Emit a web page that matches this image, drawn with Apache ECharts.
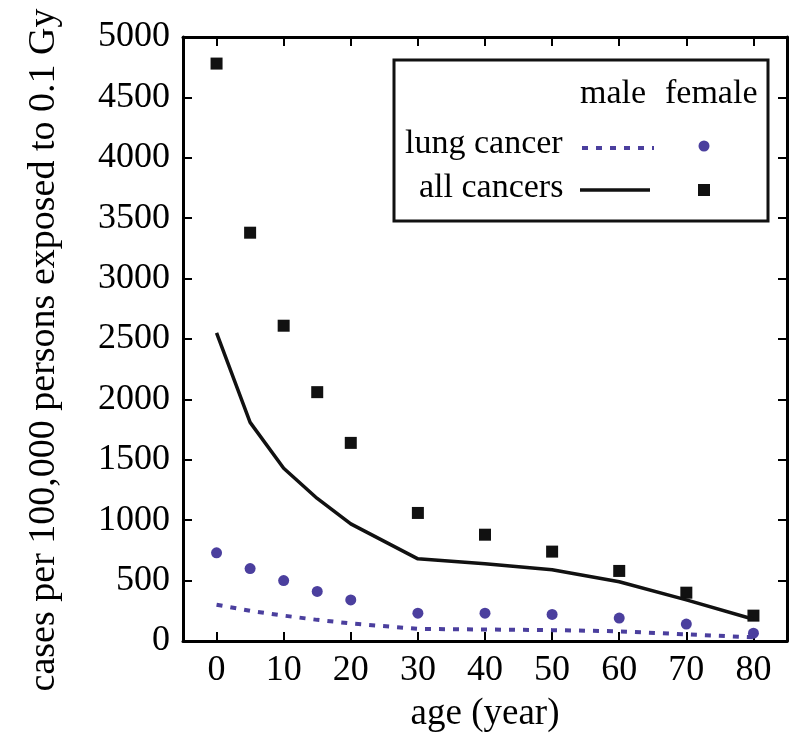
<!DOCTYPE html>
<html>
<head>
<meta charset="utf-8">
<script src="https://cdn.jsdelivr.net/npm/echarts@6/dist/echarts.min.js"></script>
<style>
  html, body { margin: 0; padding: 0; background: #fff; }
  #chart { width: 790px; height: 734px; }
</style>
</head>
<body>
<div id="chart"></div>
<script>
  // ages where the values were read
  var ages = [0, 5, 10, 15, 20, 30, 40, 50, 60, 70, 80];
  var xTicks = [0, 10, 20, 30, 40, 50, 60, 70, 80];

  var maleLung = [300, 250, 210, 175, 145, 100, 95, 90, 80, 55, 30];
  var femaleLung = [730, 600, 500, 410, 340, 230, 230, 220, 190, 140, 65];
  var maleAll = [2550, 1810, 1430, 1180, 970, 680, 640, 590, 490, 340, 180];
  var femaleAll = [4780, 3380, 2610, 2060, 1640, 1060, 880, 740, 580, 400, 210];

  var purple = '#4b3f9e';
  var serif = 'Liberation Serif';

  function pairs(vals) {
    return ages.map(function (a, i) { return [a, vals[i]]; });
  }

  // legend captions drawn as titles so they take the same serif font as the axes
  function caption(text, left, top) {
    return {
      text: text, left: left, top: top, padding: 0,
      textStyle: { fontFamily: serif, fontSize: 34, fontWeight: 'normal', color: '#000' }
    };
  }

  var chart = echarts.init(document.getElementById('chart'));

  var frameLine = { show: true, onZero: false, lineStyle: { color: '#000', width: 3 } };
  var tickIn = { show: true, inside: true, length: 9, lineStyle: { color: '#000', width: 2 } };

  var option = {
    animation: false,
    backgroundColor: '#fff',
    textStyle: { fontFamily: serif },
    title: [
      caption('male', 580, 77),
      caption('female', 665, 77),
      caption('lung cancer', 405, 127),
      caption('all cancers', 419, 171)
    ],
    grid: { left: 183, right: 3, top: 37, bottom: 93, outerBoundsMode: 'none' },
    xAxis: [
      {
        type: 'value', min: -5, max: 85,
        name: 'age (year)', nameLocation: 'middle', nameGap: 55,
        nameTextStyle: { fontFamily: serif, fontSize: 37, color: '#000' },
        axisLine: frameLine,
        axisTick: Object.assign({ customValues: xTicks }, tickIn),
        axisLabel: { customValues: xTicks, fontFamily: serif, fontSize: 36, color: '#000', margin: 12 },
        splitLine: { show: false }
      },
      {
        type: 'value', min: -5, max: 85, position: 'top',
        axisLine: frameLine,
        axisTick: Object.assign({ customValues: xTicks }, tickIn),
        axisLabel: { show: false },
        splitLine: { show: false }
      }
    ],
    yAxis: [
      {
        type: 'value', min: 0, max: 5000, interval: 500,
        name: 'cases per 100,000 persons exposed to 0.1 Gy',
        nameLocation: 'middle', nameGap: 120,
        nameTextStyle: { fontFamily: serif, fontSize: 38, color: '#000', padding: [0, 22, 0, 0] },
        axisLine: frameLine,
        axisTick: tickIn,
        axisLabel: {
          fontFamily: serif, fontSize: 36, color: '#000', margin: 13,
          formatter: function (v) { return String(v); }
        },
        splitLine: { show: false }
      },
      {
        type: 'value', min: 0, max: 5000, interval: 500, position: 'right',
        axisLine: frameLine,
        axisTick: tickIn,
        axisLabel: { show: false },
        splitLine: { show: false }
      }
    ],
    series: [
      {
        name: 'lung cancer male', type: 'line', data: pairs(maleLung),
        showSymbol: false,
        lineStyle: { color: purple, width: 4, type: [6, 8] }
      },
      {
        name: 'all cancers male', type: 'line', data: pairs(maleAll),
        showSymbol: false,
        lineStyle: { color: '#111', width: 3.5 }
      },
      {
        name: 'lung cancer female', type: 'scatter', data: pairs(femaleLung),
        symbol: 'circle', symbolSize: 11,
        itemStyle: { color: purple, opacity: 1 }
      },
      {
        name: 'all cancers female', type: 'scatter', data: pairs(femaleAll),
        symbol: 'rect', symbolSize: 12,
        itemStyle: { color: '#111', opacity: 1 }
      }
    ],
    graphic: [
      { type: 'rect', shape: { x: 394, y: 60, width: 374, height: 161 },
        style: { fill: '#fff', stroke: '#111', lineWidth: 3 }, z: -1, zlevel: 0 },
      { type: 'line', shape: { x1: 582, y1: 148, x2: 654, y2: 148 },
        style: { stroke: purple, lineWidth: 4, lineDash: [6, 8] } },
      { type: 'line', shape: { x1: 580, y1: 190, x2: 650, y2: 190 },
        style: { stroke: '#111', lineWidth: 3.5 } },
      { type: 'circle', shape: { cx: 704, cy: 146, r: 5.5 },
        style: { fill: purple } },
      { type: 'rect', shape: { x: 698, y: 184, width: 12, height: 12 },
        style: { fill: '#111' } }
    ]
  };

  chart.setOption(option);
</script>
</body>
</html>
